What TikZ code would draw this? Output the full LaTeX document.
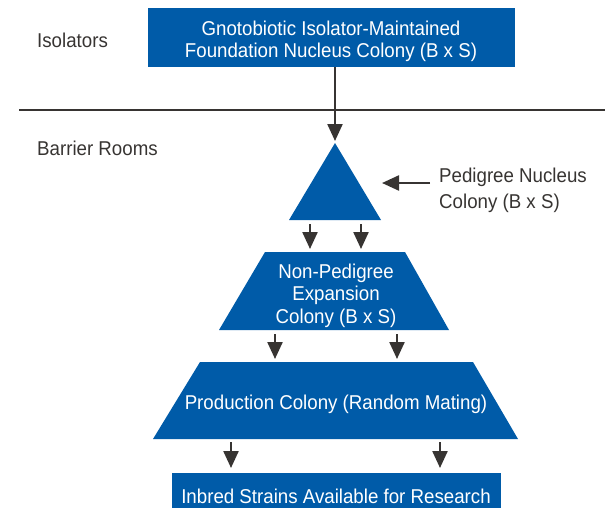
\documentclass[tikz,border=0pt]{standalone}
\usepackage{fontspec}
\setmainfont[FakeStretch=0.935]{Liberation Sans}
\usetikzlibrary{arrows.meta}
\definecolor{cblue}{RGB}{0,91,168}
\definecolor{cdark}{RGB}{55,52,50}
\begin{document}
\begin{tikzpicture}[x=1pt,y=-1pt,
  shapefill/.style={fill=cblue,draw=none},
  wtext/.style={text=white,font=\fontsize{20}{22.5}\selectfont,align=center,inner sep=0pt},
  ktext/.style={text=cdark,font=\fontsize{20}{22.5}\selectfont,inner sep=0pt},
  flow/.style={draw=cdark,line width=2.3pt,-{Triangle[length=17pt,width=15pt]}},
  rule/.style={draw=cdark,line width=2pt}]
\useasboundingbox (0,0) rectangle (605,507);
\clip (0,0) rectangle (605,507);
% shapes
\path[shapefill] (148,8) rectangle (515,67);
\node[wtext] (top) at (331,41.5) {Gnotobiotic Isolator-Maintained\\Foundation Nucleus Colony (B x S)};
\coordinate (topb) at (335,67);
\path[shapefill] (335,143) -- (381,220) -- (289,220) -- cycle;
\coordinate (apex) at (335,141);
\path[shapefill] (265,252) -- (405,252) -- (449,330) -- (219,330) -- cycle;
\node[wtext] (np) at (336,295.5) {Non-Pedigree\\Expansion\\Colony (B x S)};
\path[shapefill] (200,362) -- (473,362) -- (518,439) -- (153,439) -- cycle;
\node[wtext] (prod) at (336,404.5) {Production Colony (Random Mating)};
\path[shapefill] (172,473) rectangle (501,520);
\node[wtext] (inb) at (336,496.5) {Inbred Strains Available for Research};
% separators and labels
\coordinate (hl) at (19,110);
\coordinate (hr) at (605,110);
\draw[rule] (hl) -- (hr);
\node[ktext,anchor=west] (iso) at (37,40) {Isolators};
\node[ktext,anchor=west] (bar) at (37,148) {Barrier Rooms};
\node[ktext,anchor=west,align=left,font=\fontsize{20}{26}\selectfont] (ped) at (439,190) {Pedigree Nucleus\\Colony (B x S)};
% connectors
\draw[flow] (topb) -- (apex);
\coordinate (pa) at (430,183);
\coordinate (pb) at (382,183);
\draw[flow] (pa) -- (pb);
\coordinate (a1s) at (310,224); \coordinate (a1e) at (310,249);
\coordinate (a2s) at (361,224); \coordinate (a2e) at (361,249);
\draw[flow] (a1s) -- (a1e);
\draw[flow] (a2s) -- (a2e);
\coordinate (b1s) at (275,334); \coordinate (b1e) at (275,359);
\coordinate (b2s) at (397,334); \coordinate (b2e) at (397,359);
\draw[flow] (b1s) -- (b1e);
\draw[flow] (b2s) -- (b2e);
\coordinate (c1s) at (231,442); \coordinate (c1e) at (231,468);
\coordinate (c2s) at (440,442); \coordinate (c2e) at (440,468);
\draw[flow] (c1s) -- (c1e);
\draw[flow] (c2s) -- (c2e);
\end{tikzpicture}
\end{document}
